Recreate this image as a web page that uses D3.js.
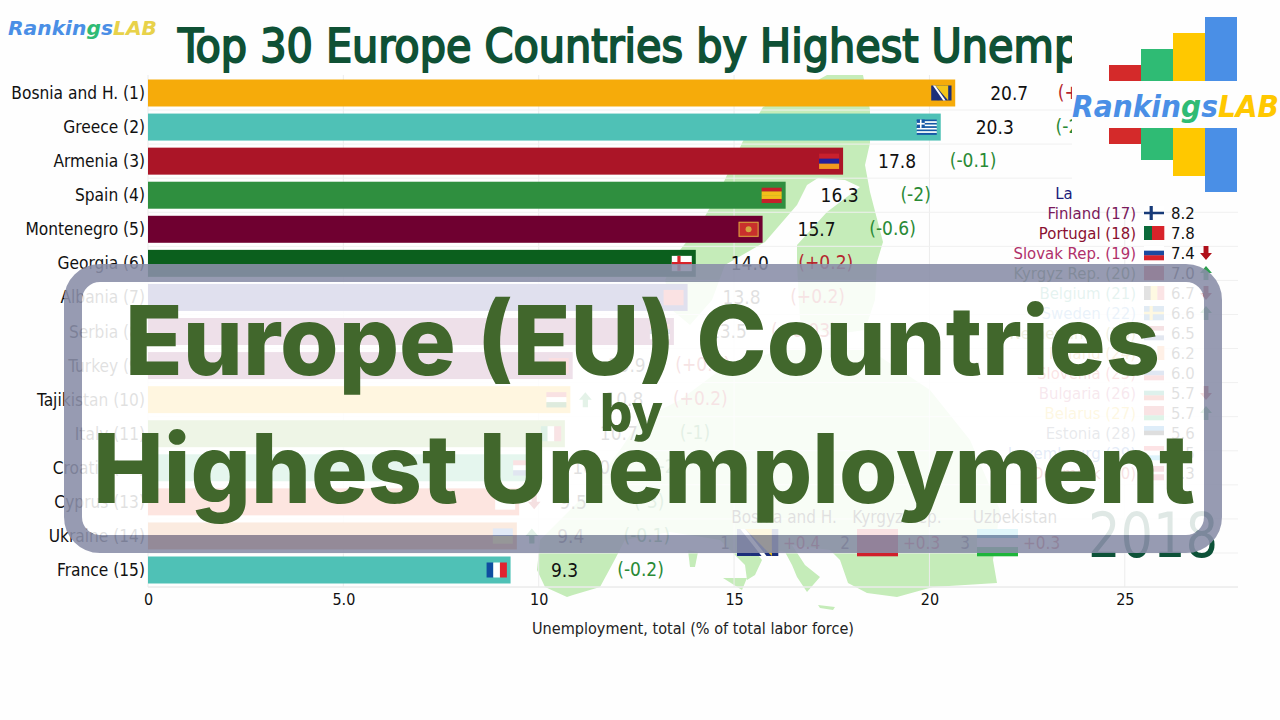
<!DOCTYPE html>
<html>
<head>
<meta charset="utf-8">
<script src="https://cdn.jsdelivr.net/npm/d3@7"></script>
<style>
  html, body { margin: 0; padding: 0; background: #fefefe; overflow: hidden; }
  text { font-family: "DejaVu Sans Condensed", "DejaVu Sans", sans-serif; }
</style>
</head>
<body>
<svg id="chart" width="1280" height="720"></svg>
<script>
// top 15, drawn as bars
const topNames = ['Bosnia and H.', 'Greece', 'Armenia', 'Spain', 'Montenegro', 'Georgia', 'Albania', 'Serbia', 'Turkey', 'Tajikistan', 'Italy', 'Croatia', 'Cyprus', 'Ukraine', 'France'];
const topValues = [20.66, 20.29, 17.79, 16.32, 15.73, 14.02, 13.81, 13.46, 10.87, 10.81, 10.67, 9.96, 9.5, 9.44, 9.28];
const topDeltas = ['(+0.4)', '(-2)', '(-0.1)', '(-2)', '(-0.6)', '(+0.2)', '(+0.2)', '(+0.03)', '(+0.8)', '(+0.2)', '(-1)', '(-2)', '(-3)', '(-0.1)', '(-0.2)'];
const topMoves = [0, 0, 0, 0, 0, 0, 0, 0, 0, 1, 0, 0, -1, 1, 0];

// ranks 16-30, the small list on the right
const restNames = ['Latvia', 'Finland', 'Portugal', 'Slovak Rep.', 'Kyrgyz Rep.', 'Belgium', 'Sweden', 'Netherlands', 'Ireland', 'Slovenia', 'Bulgaria', 'Belarus', 'Estonia', 'Luxembourg', 'Denmark'];
const restValues = [8.7, 8.2, 7.8, 7.4, 7.0, 6.7, 6.6, 6.5, 6.2, 6.0, 5.7, 5.7, 5.6, 5.5, 5.3];
const restMoves = [0, 0, 0, -1, 1, -1, 1, 0, 0, 0, -1, 1, 0, 0, 0];

// biggest yearly rise
const riserNames = ['Bosnia and H.', 'Kyrgyz Rep.', 'Uzbekistan'];
const riserDeltas = ['+0.4', '+0.3', '+0.3'];

const year = '2018';
const xTicks = [0, 5, 10, 15, 20, 25];
const xTickLabels = ['0', '5.0', '10', '15', '20', '25'];
const logoSteps = [1, 2, 3, 4];

// rough europe outline, map box units
const mapMainland = [[10,470],[7,500],[15,517],[37,527],[43,525],[70,517],[83,493],[95,470],[140,462],[190,470],[215,495],[217,510],[225,505],[232,490],[223,478],[255,482],[262,495],[267,507],[277,522],[290,507],[275,495],[262,475],[300,480],[310,490],[318,513],[337,523],[367,527],[403,517],[467,513],[463,490],[470,440],[440,370],[400,320],[340,280],[250,280],[190,300],[150,330],[110,350],[90,380],[60,420],[30,450]];
const mapNorth = [[297,5],[333,5],[340,40],[340,73],[335,95],[340,122],[353,172],[347,192],[345,230],[335,260],[300,265],[270,250],[267,195],[267,175],[297,142],[330,117],[315,110],[288,108],[277,115],[267,135],[235,172],[195,195],[182,230],[160,255],[142,240],[135,210],[150,180],[170,155],[190,120],[213,71],[233,37],[270,20]];
const mapSicily = [[193,508],[217,508],[212,520]];
const mapSardinia = [[158,480],[168,482],[165,497],[160,497]];
const mapCrete = [[288,535],[305,537],[303,540],[290,538]];

const flagStyle = {
  'Bosnia and H.': { dir: 'v', colors: ['#1c2f7a', '#1c2f7a', '#1c2f7a'], tri: '#f4c518' },
  'Greece': { dir: 'h', colors: ['#1557a6', '#fff', '#1557a6', '#fff', '#1557a6', '#fff', '#1557a6', '#fff', '#1557a6'] },
  'Armenia': { dir: 'h', colors: ['#c9202c', '#23209a', '#f29a1f'] },
  'Spain': { dir: 'h', colors: ['#c4202a', '#f2bf1a', '#f2bf1a', '#c4202a'] },
  'Montenegro': { dir: 'h', colors: ['#c9302c'], border: '#d4a840' },
  'Georgia': { dir: 'h', colors: ['#fff'], cross: '#d8232a' },
  'Albania': { dir: 'h', colors: ['#d8232a'] },
  'Serbia': { dir: 'h', colors: ['#c6363c', '#0c4076', '#fff'] },
  'Turkey': { dir: 'h', colors: ['#e30a17'] },
  'Tajikistan': { dir: 'h', colors: ['#cc2027', '#fff', '#006600'] },
  'Italy': { dir: 'v', colors: ['#009246', '#fff', '#ce2b37'] },
  'Croatia': { dir: 'h', colors: ['#d8232a', '#fff', '#1a3f94'] },
  'Cyprus': { dir: 'h', colors: ['#fff'] },
  'Ukraine': { dir: 'h', colors: ['#1f5fbf', '#f7d417'] },
  'France': { dir: 'v', colors: ['#0f4da0', '#fff', '#e0232e'] },
  'Latvia': { dir: 'h', colors: ['#9e3039', '#fff', '#9e3039'] },
  'Finland': { dir: 'h', colors: ['#fff'], cross: '#173a78' },
  'Portugal': { dir: 'v', colors: ['#0b6a3a', '#0b6a3a', '#d8232a', '#d8232a', '#d8232a'] },
  'Slovak Rep.': { dir: 'h', colors: ['#fff', '#1b4aa0', '#d8232a'] },
  'Kyrgyz Rep.': { dir: 'h', colors: ['#d0202c'] },
  'Belgium': { dir: 'v', colors: ['#222', '#f6d020', '#e0303a'] },
  'Sweden': { dir: 'h', colors: ['#1c64a8'], cross: '#f4c518' },
  'Netherlands': { dir: 'h', colors: ['#ae1c28', '#fff', '#21468b'] },
  'Ireland': { dir: 'v', colors: ['#169b62', '#fff', '#ff883e'] },
  'Slovenia': { dir: 'h', colors: ['#fff', '#1546a0', '#d8232a'] },
  'Bulgaria': { dir: 'h', colors: ['#fff', '#00966e', '#d62612'] },
  'Belarus': { dir: 'h', colors: ['#d22730', '#d22730', '#00a651'] },
  'Estonia': { dir: 'h', colors: ['#0072ce', '#000', '#fff'] },
  'Luxembourg': { dir: 'h', colors: ['#ed2939', '#fff', '#00a1de'] },
  'Denmark': { dir: 'h', colors: ['#c8102e'], cross: '#fff' },
  'Uzbekistan': { dir: 'h', colors: ['#1eb5d8', '#fff', '#1eb53a'] }
};
const topColors = ['#f6ab0a', '#4fc1b6', '#ab1527', '#2f8f3f', '#6f0030', '#0b5f1d', '#16167a', '#7a1658', '#7a1658', '#ffbc16', '#7cb342', '#37bc7a', '#eb3716', '#de6416', '#4fc1b6'];
const restColors = ['#1c1c7a', '#7a1a5c', '#8a1030', '#b0306a', '#3f6b2a', '#37a08c', '#5b9bd5', '#8a8a16', '#d08a16', '#e02d3a', '#c0507a', '#f0c020', '#505a70', '#3068c0', '#c0202a'];

const up = '#2e9e4f', down = '#b0101a';
const svg = d3.select('#chart');

const x = d3.scaleLinear().domain([0, 28]).range([148, 1242]);
const yTop = d3.scaleLinear().domain([1, 15]).range([93, 570]);
const yRest = d3.scaleLinear().domain([16, 30]).range([193, 473]);
const mapX = d3.scaleLinear().domain([0, 480]).range([530, 1010]);
const mapY = d3.scaleLinear().domain([0, 580]).range([70, 650]);

function drawFlag(g, name, w, h) {
  const f = flagStyle[name];
  const band = d3.scaleBand().domain(d3.range(f.colors.length)).range([0, f.dir === 'h' ? h : w]);
  g.selectAll('rect.stripe').data(f.colors).join('rect').attr('class', 'stripe')
    .attr('x', (d, i) => f.dir === 'h' ? 0 : band(i))
    .attr('y', (d, i) => f.dir === 'h' ? band(i) : 0)
    .attr('width', f.dir === 'h' ? w : band.bandwidth() + 0.3)
    .attr('height', f.dir === 'h' ? band.bandwidth() + 0.3 : h)
    .attr('fill', d => d);
  if (f.cross) {
    g.append('rect').attr('x', w * 0.28).attr('width', w * 0.16).attr('height', h).attr('fill', f.cross);
    g.append('rect').attr('y', h * 0.41).attr('width', w).attr('height', h * 0.18).attr('fill', f.cross);
  }
  if (f.tri) {
    g.append('path').attr('d', d3.line()([[w * 0.2, 0], [w * 0.85, 0], [w * 0.85, h]])).attr('fill', f.tri);
    g.append('path').attr('d', d3.line()([[w * 0.08, 0], [w * 0.2, 0], [w * 0.72, h], [w * 0.6, h]])).attr('fill', '#fff');
  }
  if (f.border) {
    g.append('rect').attr('x', 0.5).attr('y', 0.5).attr('width', w - 1).attr('height', h - 1).attr('fill', 'none').attr('stroke', f.border);
    g.append('circle').attr('cx', w / 2).attr('cy', h / 2).attr('r', h * 0.2).attr('fill', f.border);
  }
  if (name === 'Greece') {
    g.append('rect').attr('width', w * 0.4).attr('height', h * 5 / 9).attr('fill', '#1557a6');
    g.append('rect').attr('x', w * 0.16).attr('width', w * 0.08).attr('height', h * 5 / 9).attr('fill', '#fff');
    g.append('rect').attr('y', h * 2 / 9).attr('width', w * 0.4).attr('height', h / 9).attr('fill', '#fff');
  }
}

function drawArrow(g, dir, s) {
  // dir 1 = up, -1 = down
  const p = [[0, -dir * s], [dir * s * 0.85, 0], [dir * s * 0.35, 0], [dir * s * 0.35, dir * s], [-dir * s * 0.35, dir * s], [-dir * s * 0.35, 0], [-dir * s * 0.85, 0]];
  g.append('path').attr('d', d3.line()(p) + 'Z').attr('fill', dir > 0 ? up : down);
}

// map behind the chart
const mapLine = d3.line().x(d => mapX(d[0])).y(d => mapY(d[1])).curve(d3.curveLinearClosed);
svg.selectAll('path.map').data([mapMainland, mapNorth, mapSicily, mapSardinia, mapCrete]).join('path').attr('class', 'map')
  .attr('d', mapLine).attr('fill', '#c5ecb9');

// grid
const grid = svg.append('g');
grid.selectAll('line.v').data(xTicks).join('line').attr('class', 'v')
  .attr('x1', d => x(d)).attr('x2', d => x(d)).attr('y1', 75).attr('y2', 587)
  .attr('stroke', '#ececec');
grid.selectAll('line.h').data(d3.range(1, 16)).join('line').attr('class', 'h')
  .attr('x1', 148).attr('x2', 1238).attr('y1', d => yTop(d + 0.5)).attr('y2', d => yTop(d + 0.5))
  .attr('stroke', '#f0f0f0');

// axis
const axis = svg.append('g').attr('transform', 'translate(0,587)')
  .call(d3.axisBottom(x).tickValues(xTicks).tickFormat((d, i) => xTickLabels[i]).tickSize(0).tickPadding(7));
axis.select('.domain').attr('stroke', '#e8e8e8').attr('d', 'M148,0H1238');
axis.selectAll('text').style('font-size', '16px').attr('fill', '#111').style('font-family', '"DejaVu Sans Condensed", "DejaVu Sans", sans-serif');

svg.append('text').attr('x', 693).attr('y', 634).attr('text-anchor', 'middle')
  .attr('font-size', 16.1).attr('fill', '#222').text('Unemployment, total (% of total labor force)');

// top 15 rows
const topRows = svg.selectAll('g.top').data(topNames).join('g').attr('class', 'top')
  .attr('transform', (d, i) => `translate(0,${yTop(i + 1)})`);
topRows.append('text').attr('x', 145).attr('dy', '0.35em').attr('text-anchor', 'end')
  .attr('font-size', 17.2).attr('fill', '#111').text((d, i) => `${d} (${i + 1})`);
topRows.append('rect').attr('x', x(0)).attr('y', -13.5).attr('height', 27)
  .attr('width', (d, i) => x(topValues[i]) - x(0)).attr('fill', (d, i) => topColors[i]);
topRows.append('text').attr('x', (d, i) => x(topValues[i]) + 54).attr('dy', '0.35em').attr('text-anchor', 'middle')
  .attr('font-size', 19).attr('fill', '#111').text((d, i) => d3.format('.1f')(topValues[i]));
topRows.append('text').attr('x', (d, i) => x(topValues[i]) + 130).attr('dy', '0.3em').attr('text-anchor', 'middle')
  .attr('font-size', 19).attr('fill', (d, i) => topDeltas[i][1] === '+' ? '#b5262e' : '#2a8a35').text((d, i) => topDeltas[i]);
topRows.each(function (d, i) {
  const row = d3.select(this);
  drawFlag(row.append('g').attr('transform', `translate(${x(topValues[i]) - 24},-7.5)`), d, 20, 15);
  if (topMoves[i]) drawArrow(row.append('g').attr('transform', `translate(${x(topValues[i]) + 15},0)`), topMoves[i], 7.5);
});

// ranks 16-30
const restRows = svg.selectAll('g.rest').data(restNames).join('g').attr('class', 'rest')
  .attr('transform', (d, i) => `translate(0,${yRest(i + 16)})`);
restRows.append('text').attr('x', 1136).attr('dy', '0.35em').attr('text-anchor', 'end')
  .attr('font-size', 16.6).attr('fill', (d, i) => restColors[i]).text((d, i) => `${d} (${i + 16})`);
restRows.append('text').attr('x', 1171).attr('dy', '0.35em')
  .attr('font-size', 16.6).attr('fill', '#111').text((d, i) => d3.format('.1f')(restValues[i]));
restRows.each(function (d, i) {
  const row = d3.select(this);
  drawFlag(row.append('g').attr('transform', 'translate(1144,-7)'), d, 20, 14);
  if (restMoves[i]) drawArrow(row.append('g').attr('transform', 'translate(1206,0)'), restMoves[i], 7);
});

// risers
const riserX = d3.scaleLinear().domain([0, 2]).range([737, 977]);
const risers = svg.selectAll('g.riser').data(riserNames).join('g').attr('class', 'riser')
  .attr('transform', (d, i) => `translate(${riserX(i)},0)`);
risers.append('text').attr('x', (d, i) => [47, 40, 38][i]).attr('y', 523).attr('text-anchor', 'middle').attr('font-size', 17).attr('fill', '#111').text(d => d);
risers.append('text').attr('x', -7).attr('y', 549).attr('text-anchor', 'end').attr('font-size', 17).attr('fill', '#333').text((d, i) => i + 1);
risers.append('text').attr('x', 46).attr('y', 549).attr('font-size', 17).attr('fill', '#b5262e').text((d, i) => riserDeltas[i]);
risers.each(function (d) { drawFlag(d3.select(this).append('g').attr('transform', 'translate(0,529)'), d, 41, 27); });

svg.append('text').attr('x', 1088).attr('y', 557).attr('textLength', 130).attr('lengthAdjust', 'spacingAndGlyphs')
  .attr('font-size', 62).attr('fill', '#0d5238').text(year);

// title runs under the logo panel
svg.append('text').attr('x', 178).attr('y', 62).attr('font-size', 46)
  .attr('fill', '#0f5135').attr('stroke', '#0f5135').attr('stroke-width', 1.8)
  .text('Top 30 Europe Countries by Highest Unemployment');

// logo panel
svg.append('rect').attr('x', 1072).attr('y', 0).attr('width', 208).attr('height', 205).attr('fill', '#fefefe');
const logoColors = ['#d42a2a', '#2fbb74', '#ffc800', '#4a8fe6'];
const logoX = d3.scaleBand().domain(logoSteps).range([1109, 1237]);
const logoH = d3.scaleLinear().domain([0, 4]).range([0, 64]);
svg.selectAll('rect.logoUp').data(logoSteps).join('rect').attr('class', 'logoUp')
  .attr('x', d => logoX(d)).attr('width', logoX.bandwidth()).attr('y', d => 81 - logoH(d)).attr('height', d => logoH(d)).attr('fill', (d, i) => logoColors[i]);
svg.selectAll('rect.logoDown').data(logoSteps).join('rect').attr('class', 'logoDown')
  .attr('x', d => logoX(d)).attr('width', logoX.bandwidth()).attr('y', 128).attr('height', d => logoH(d)).attr('fill', (d, i) => logoColors[i]);

function logoText(px, py, size, len, labColor) {
  const t = svg.append('text').attr('x', px).attr('y', py).attr('font-size', size).attr('font-weight', 700)
    .attr('font-style', 'italic').attr('textLength', len).attr('lengthAdjust', 'spacingAndGlyphs')
    .style('font-family', '"DejaVu Sans", sans-serif');
  t.append('tspan').attr('fill', '#4a8fe6').text('Rankin');
  t.append('tspan').attr('fill', '#2fbb74').text('g');
  t.append('tspan').attr('fill', '#4a8fe6').text('s');
  t.append('tspan').attr('fill', labColor).text('LAB');
}
logoText(1072, 117, 30, 207, '#ffc800');
logoText(8, 35, 20, 149, '#e8d24a');

// thumbnail banner over everything
svg.append('rect').attr('x', 82).attr('y', 282).attr('width', 1122).attr('height', 253).attr('rx', 18)
  .attr('fill', '#fff').attr('fill-opacity', 0.87);
svg.append('rect').attr('x', 73).attr('y', 273).attr('width', 1140).attr('height', 271).attr('rx', 27)
  .attr('fill', 'none').attr('stroke', '#8a8fa8').attr('stroke-opacity', 0.89).attr('stroke-width', 18);

const bannerLines = [
  { text: 'Europe (EU) Countries', x: 125, y: 375, size: 96, len: 1035 },
  { text: 'by', x: 600, y: 431, size: 52, len: 63 },
  { text: 'Highest Unemployment', x: 93, y: 503, size: 96, len: 1102 }
];
svg.selectAll('text.banner').data(bannerLines).join('text').attr('class', 'banner')
  .attr('x', d => d.x).attr('y', d => d.y).attr('font-size', d => d.size)
  .attr('textLength', d => d.len).attr('lengthAdjust', 'spacingAndGlyphs')
  .attr('font-weight', 800).attr('fill', '#41672c')
  .style('font-family', 'Inter, "Liberation Sans", sans-serif').text(d => d.text);
</script>
</body>
</html>
